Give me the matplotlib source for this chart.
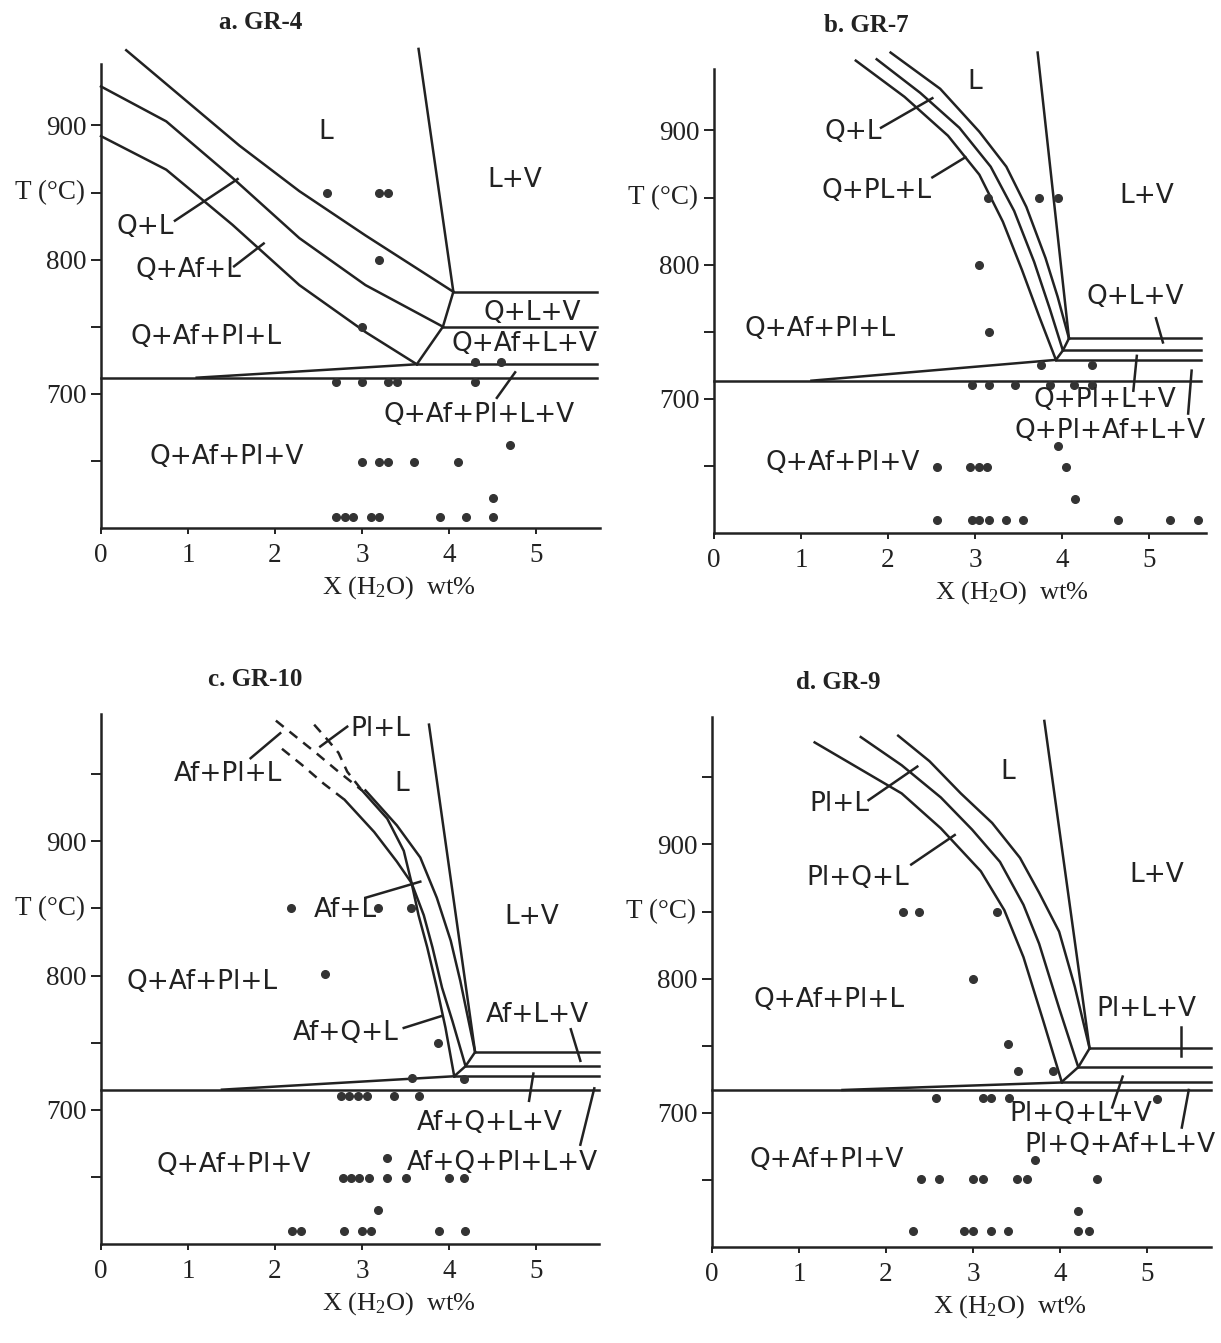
import matplotlib.pyplot as plt

plt.rcParams['font.family'] = 'Liberation Serif'
plt.rcParams['mathtext.fontset'] = 'custom'
plt.rcParams['mathtext.rm'] = 'Liberation Serif'
plt.rcParams['mathtext.it'] = 'Liberation Serif:italic'

INK = '#222222'
SANS = 'DejaVu Sans'
LW = 1.8
W, H = 1221, 1343
PX_PER_WT = 87.0
PX_PER_DEG = 1.342

# ---------------- a. GR-4 ----------------
a_vapor = [(3.65, 957), (4.05, 776)]
a_liq_q = [(0.29, 956), (1.59, 885), (2.28, 851), (3.04, 818), (4.05, 776)]
a_liq_af = [(0.0, 929), (0.75, 903), (1.51, 861), (2.28, 816), (3.04, 781), (3.93, 750)]
a_liq_pl = [(0.0, 892), (0.75, 867), (1.51, 826), (2.28, 781), (3.04, 746), (3.63, 722)]
a_cusp = [(4.05, 776), (3.93, 750), (3.63, 722)]
a_hlines = [(4.05, 776), (3.93, 750), (3.63, 722), (0.0, 712)]
a_slope = [(1.1, 712), (3.63, 722)]
a_leaders = [((0.85, 829), (1.57, 860)), ((1.53, 795), (1.87, 812)),
             ((4.55, 697), (4.76, 716))]
a_labels = [('L', 2.58, 895), ('L+V', 4.76, 859), ('Q+L', 0.51, 824),
            ('Q+Af+L', 1.0, 792), ('Q+Af+Pl+L', 1.21, 742), ('Q+L+V', 4.96, 760),
            ('Q+Af+L+V', 4.87, 737), ('Q+Af+Pl+L+V', 4.35, 684), ('Q+Af+Pl+V', 1.45, 653)]
a_dot_x = [2.6, 3.2, 3.3, 3.2, 3.0, 4.3, 4.6, 2.7, 3.0, 3.3, 3.4, 4.3, 4.7,
           3.0, 3.2, 3.3, 3.6, 4.1, 4.5, 2.7, 2.8, 2.9, 3.1, 3.2, 3.9, 4.2, 4.5]
a_dot_T = [850, 850, 850, 800, 750, 724, 724, 709, 709, 709, 709, 709, 662,
           649, 649, 649, 649, 649, 622, 608, 608, 608, 608, 608, 608, 608, 608]

# ---------------- b. GR-7 ----------------
b_vapor = [(3.72, 958), (4.08, 745)]
b_liq_q = [(2.03, 958), (2.60, 931), (3.05, 899), (3.36, 873), (3.59, 843), (3.81, 805), (3.95, 776), (4.08, 745)]
b_liq_pl = [(1.87, 953), (2.37, 928), (2.82, 902), (3.18, 873), (3.45, 840), (3.68, 802), (3.86, 767), (4.01, 736)]
b_liq_af = [(1.63, 952), (2.19, 925), (2.69, 896), (3.05, 867), (3.32, 832), (3.54, 796), (3.74, 761), (3.93, 729)]
b_cusp = [(4.08, 745), (4.01, 736), (3.93, 729)]
b_hlines = [(4.08, 745), (4.01, 736), (3.93, 729), (0.0, 713.5)]
b_slope = [(1.12, 713.5), (3.93, 729)]
b_leaders = [((1.92, 902), (2.51, 924)), ((2.51, 865), (2.89, 880)), ((5.08, 760), (5.16, 742)),
             ((4.86, 732), (4.82, 706)), ((5.49, 721), (5.45, 689))]
b_labels = [('L', 3.0, 936), ('L+V', 4.97, 851), ('Q+L', 1.60, 899), ('Q+PL+L', 1.87, 855),
            ('Q+Af+Pl+L', 1.22, 752), ('Q+L+V', 4.84, 776), ('Q+Pl+L+V', 4.49, 699),
            ('Q+Pl+Af+L+V', 4.55, 676), ('Q+Af+Pl+V', 1.48, 652)]
b_dot_x = [3.15, 3.74, 3.95, 3.05, 3.16, 3.76, 4.35, 2.96, 3.16, 3.46, 3.86, 4.14, 4.35,
           3.95, 2.56, 2.94, 3.05, 3.14, 4.05, 4.15,
           2.56, 2.96, 3.05, 3.16, 3.36, 3.55, 4.64, 5.24, 5.56]
b_dot_T = [850, 850, 850, 800, 750, 725, 725, 710, 710, 710, 710, 710, 710,
           665, 649, 649, 649, 649, 649, 625,
           610, 610, 610, 610, 610, 610, 610, 610, 610]

# ---------------- c. GR-10 ----------------
c_vapor = [(3.77, 987), (4.30, 743)]
c_dash_pl = [(2.45, 987), (2.60, 976), (2.73, 966), (2.83, 952), (3.00, 938)]
c_dash_af = [(2.01, 990), (2.24, 978), (2.47, 966), (2.71, 953), (3.00, 938)]
c_dash_q = [(2.08, 969), (2.31, 957), (2.56, 943), (2.80, 931)]
c_liq_af = [(3.04, 938), (3.40, 912), (3.67, 888), (3.86, 858), (4.02, 826), (4.13, 796), (4.21, 771), (4.30, 743)]
c_liq_q = [(2.80, 931), (3.14, 907), (3.40, 885), (3.57, 869), (3.71, 845), (3.81, 821), (3.92, 791), (4.04, 766), (4.19, 732.5)]
c_liq_pl = [(3.00, 938), (3.29, 917), (3.48, 893), (3.57, 869), (3.65, 845), (3.75, 821), (3.86, 791), (3.96, 761), (4.06, 725)]
c_cusp = [(4.30, 743), (4.19, 732.5), (4.06, 725)]
c_hlines = [(4.30, 743), (4.19, 732.5), (4.06, 725), (0.0, 715)]
c_slope = [(1.39, 715), (4.06, 725)]
c_leaders = [((1.72, 962), (2.06, 980.6)), ((2.83, 985.5), (2.52, 970.7)), ((3.04, 858), (3.67, 870)),
             ((3.48, 761), (3.92, 770)), ((5.40, 760), (5.51, 736.5)), ((4.97, 727), (4.92, 706.7)),
             ((5.67, 716), (5.51, 674))]
c_labels = [('Pl+L', 3.21, 984), ('Af+Pl+L', 1.46, 950), ('L', 3.46, 943), ('L+V', 4.95, 844),
            ('Af+L', 2.81, 849), ('Q+Af+Pl+L', 1.16, 795), ('Af+Q+L', 2.81, 757),
            ('Af+L+V', 5.01, 771), ('Af+Q+L+V', 4.47, 690), ('Af+Q+Pl+L+V', 4.61, 660),
            ('Q+Af+Pl+V', 1.52, 659)]
c_dot_x = [2.18, 3.18, 3.56, 2.58, 3.87, 3.57, 4.17,
           2.76, 2.85, 2.95, 3.06, 3.37, 3.66, 3.29,
           2.78, 2.87, 2.96, 3.08, 3.29, 3.50, 4.0, 4.17, 3.18,
           2.19, 2.30, 2.79, 3.0, 3.10, 3.89, 4.18]
c_dot_T = [850, 850, 850, 801, 750, 724, 723,
           710, 710, 710, 710, 710, 710, 664,
           649, 649, 649, 649, 649, 649, 649, 649, 625,
           610, 610, 610, 610, 610, 610, 610]

# ---------------- d. GR-9 ----------------
d_vapor = [(3.82, 992), (4.34, 748)]
d_liq_pl = [(2.14, 981), (2.50, 962), (2.86, 938), (3.22, 916), (3.54, 890), (3.76, 864), (3.99, 835), (4.17, 794), (4.34, 748)]
d_liq_q = [(1.71, 980), (2.18, 959), (2.63, 935), (2.99, 911), (3.31, 887), (3.58, 855), (3.76, 826), (3.99, 778), (4.21, 734)]
d_liq_af = [(1.18, 976), (1.68, 957), (2.18, 938), (2.63, 912), (3.09, 880), (3.36, 851), (3.58, 816), (3.81, 768), (4.02, 723)]
d_cusp = [(4.34, 748), (4.21, 734), (4.02, 723)]
d_hlines = [(4.34, 748), (4.21, 734), (4.02, 722.6), (0.0, 717)]
d_slope = [(1.5, 717), (4.02, 722.6)]
d_leaders = [((1.80, 933), (2.36, 958)), ((2.29, 885), (2.79, 907)), ((5.39, 764), (5.39, 742)),
             ((4.72, 727), (4.60, 704)), ((5.48, 717), (5.40, 689))]
d_labels = [('L', 3.40, 954), ('L+V', 5.11, 877), ('Pl+L', 1.46, 930), ('Pl+Q+L', 1.68, 875),
            ('Q+Af+Pl+L', 1.34, 784), ('Pl+L+V', 4.99, 777), ('Pl+Q+L+V', 4.24, 699),
            ('Pl+Q+Af+L+V', 4.69, 676), ('Q+Af+Pl+V', 1.32, 665)]
d_dot_x = [2.20, 2.38, 3.28, 3.0, 3.40, 3.52, 3.92,
           2.57, 3.11, 3.21, 3.41, 5.11, 3.71,
           2.40, 2.61, 3.0, 3.11, 3.50, 3.62, 4.42, 4.21,
           2.31, 2.90, 3.0, 3.21, 3.40, 4.21, 4.33]
d_dot_T = [850, 850, 850, 800, 751, 731, 731,
           711, 711, 711, 711, 710, 665,
           651, 651, 651, 651, 651, 651, 651, 627,
           612, 612, 612, 612, 612, 612, 612]


def add_panel(fig, x0_px, y0_px, xmax, tmax):
    """Axes whose (0, 600) corner sits at pixel (x0_px, y0_px) from the top left"""
    rect = [x0_px / W, 1 - y0_px / H, xmax * PX_PER_WT / W, (tmax - 600) * PX_PER_DEG / H]
    ax = fig.add_axes(rect)
    ax.set_xlim(0, xmax)
    ax.set_ylim(600, tmax)
    for side in ['top', 'right']:
        ax.spines[side].set_visible(False)
    for side in ['left', 'bottom']:
        ax.spines[side].set_linewidth(LW)
        ax.spines[side].set_color(INK)
    ax.set_xticks([0, 1, 2, 3, 4, 5])
    ax.set_yticks([700, 800, 900])
    minor = [650, 750, 850] + ([950] if tmax > 960 else [])
    ax.set_yticks(minor, minor=True)
    ax.tick_params(axis='y', which='both', direction='out', length=7.5, width=1.4,
                   pad=3, labelsize=19.5, colors=INK)
    ax.tick_params(axis='x', direction='out', length=4, width=1.4, pad=7,
                   labelsize=19.5, colors=INK)
    ax.annotate('T (°C)', xy=(0, 850), xycoords=('axes fraction', 'data'),
                xytext=(-16, 0), textcoords='offset pixels', ha='right', va='center',
                fontsize=19.5, color=INK)
    ax.annotate('X (H$_2$O)  wt%', xy=(3.42, 0), xycoords=('data', 'axes fraction'),
                xytext=(0, -66), textcoords='offset pixels', ha='center', va='baseline',
                fontsize=19, color=INK)
    return ax


def line(ax, pts, **kw):
    xs = [p[0] for p in pts]
    ts = [p[1] for p in pts]
    ax.plot(xs, ts, color=INK, lw=LW, clip_on=False, solid_joinstyle='round', **kw)


def draw_panel(ax, title, title_x, title_T, curves, vapor, cusp, hlines, slope,
               leaders, labels, dot_x, dot_T, xend, dashed=()):
    for c in curves:
        line(ax, c)
    for c in dashed:
        line(ax, c, linestyle=(0, (4, 3)))
    line(ax, vapor)
    line(ax, cusp)
    for x0, t in hlines:
        line(ax, [(x0, t), (xend, t)])
    line(ax, slope)
    for p0, p1 in leaders:
        line(ax, [p0, p1])
    for text, x, t in labels:
        ax.text(x, t, text, ha='center', va='center', fontsize=19, family=SANS, color=INK)
    ax.plot(dot_x, dot_T, 'o', ms=5.5, color='#333333', clip_on=False)
    ax.text(title_x, title_T, title, ha='center', va='center', fontsize=18,
            fontweight='bold', color=INK, clip_on=False)


fig = plt.figure(figsize=(W / 100, H / 100), dpi=100)

ax = add_panel(fig, 101, 528, 5.73, 946)
draw_panel(ax, 'a. GR-4', 1.84, 977, [a_liq_q, a_liq_af, a_liq_pl], a_vapor, a_cusp,
           a_hlines, a_slope, a_leaders, a_labels, a_dot_x, a_dot_T, 5.70)

ax = add_panel(fig, 714, 533, 5.65, 946)
draw_panel(ax, 'b. GR-7', 1.75, 978, [b_liq_q, b_liq_pl, b_liq_af], b_vapor, b_cusp,
           b_hlines, b_slope, b_leaders, b_labels, b_dot_x, b_dot_T, 5.60)

ax = add_panel(fig, 101, 1244, 5.72, 995)
draw_panel(ax, 'c. GR-10', 1.77, 1021, [c_liq_af, c_liq_q, c_liq_pl], c_vapor, c_cusp,
           c_hlines, c_slope, c_leaders, c_labels, c_dot_x, c_dot_T, 5.72,
           dashed=[c_dash_pl, c_dash_af, c_dash_q])

ax = add_panel(fig, 712, 1247, 5.73, 995)
draw_panel(ax, 'd. GR-9', 1.45, 1021, [d_liq_pl, d_liq_q, d_liq_af], d_vapor, d_cusp,
           d_hlines, d_slope, d_leaders, d_labels, d_dot_x, d_dot_T, 5.73)

plt.savefig('out.png', dpi=100)
